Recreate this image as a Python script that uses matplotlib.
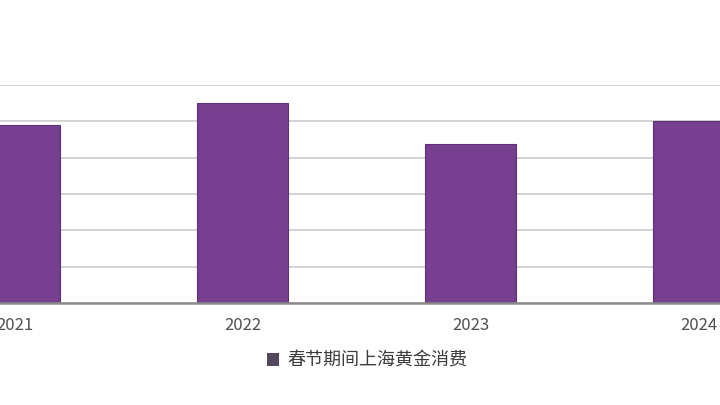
import matplotlib
matplotlib.use("Agg")
import matplotlib.pyplot as plt
from matplotlib.patches import Patch

plt.rcParams['font.family'] = ['Noto Sans CJK SC', 'DejaVu Sans']

# data (gridline step = 1 unit, axis labels cropped away)
years = ["2021", "2022", "2023", "2024"]
consumption = [4.90, 5.51, 4.38, 5.00]
series_name = "春节期间上海黄金消费"

bar_color = "#763f8f"

fig = plt.figure(figsize=(7.2, 4.05), dpi=100)
ax = fig.add_axes([0.0, 0.2519, 1.0, 0.538])

x = list(range(len(years)))
ax.bar(x, consumption, width=0.4, color=bar_color,
       edgecolor="#5f3176", linewidth=0.8, zorder=3)

ax.set_xlim(-0.0636, 3.094)
ax.set_ylim(0, 6)
ax.set_yticks(range(0, 7))
ax.yaxis.grid(True, color="#d3d3d3", linewidth=1.4, zorder=0)
ax.set_axisbelow(True)

for s in ["top", "left", "right"]:
    ax.spines[s].set_visible(False)
ax.spines["bottom"].set_color("#8a8a8a")
ax.spines["bottom"].set_linewidth(1.8)
ax.spines["bottom"].set_zorder(4)

ax.set_xticks(x)
ax.set_xticklabels(years, fontsize=12, color="#505050", fontweight="medium")
ax.tick_params(axis="x", length=0, pad=10)
ax.tick_params(axis="y", length=0, labelleft=False)

handle = Patch(facecolor="#54485e", edgecolor="none")
fig.legend(handles=[handle], labels=[series_name], loc="center",
           bbox_to_anchor=(0.51, 0.109), frameon=False,
           prop={"size": 13, "weight": "medium"},
           labelcolor="#3c3c3c", handlelength=0.65, handleheight=0.65,
           handletextpad=0.5)

fig.savefig("out.png", dpi=100, facecolor="white")
